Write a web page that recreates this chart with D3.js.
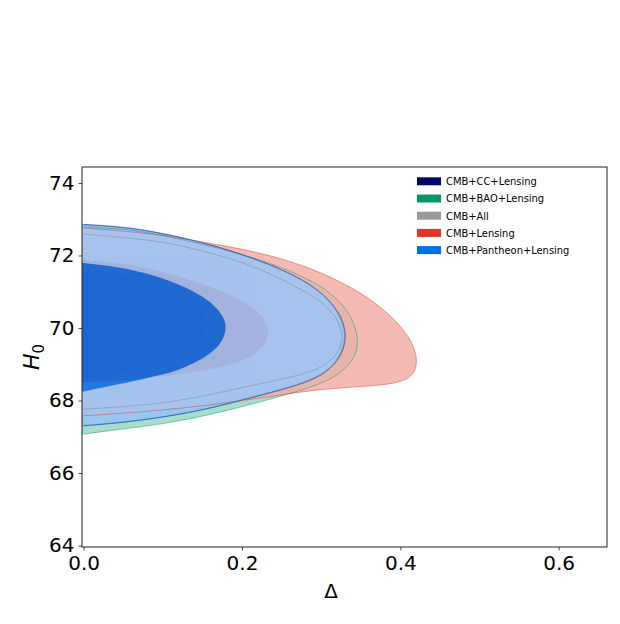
<!DOCTYPE html>
<html><head><meta charset="utf-8">
<script src="https://cdn.jsdelivr.net/npm/d3@7"></script>
<style>body{margin:0;background:#fff} svg{display:block} text{font-family:"DejaVu Sans",sans-serif;fill:#000}
.leg{font-family:"DejaVu Sans Condensed","DejaVu Sans",sans-serif;font-stretch:condensed}</style>
</head><body><svg id="c" width="620" height="624"></svg>
<script>
// ---------- data ----------
const seriesNames = ["CMB+CC+Lensing","CMB+BAO+Lensing","CMB+All","CMB+Lensing","CMB+Pantheon+Lensing"];
const seriesColors = ["#000866","#009966","#808080","#E03424","#006FED"];
const legendColors = ["#000866","#009966","#999999","#E03424","#006FED"];
const xTicks = [0.0, 0.2, 0.4, 0.6];
const yTicks = [64, 66, 68, 70, 72, 74];
const xDomain = [-0.002, 0.661];
const yDomain = [63.96, 74.44];

// contour outlines [Delta, H0]: 95% and 68% regions
const pan95 = [[0,72.85],[0.05,72.78],[0.0875,72.66],[0.151,72.36],[0.214,71.93],[0.26,71.52],[0.292,71.12],[0.314,70.68],[0.327,70.2],[0.331,69.75],[0.326,69.3],[0.312,68.88],[0.288,68.56],[0.25,68.3],[0.2,68.02],[0.151,67.74],[0.0875,67.5],[0.039,67.38],[0,67.31]];
const pan68 = [[0,71.79],[0.0666,71.62],[0.121,71.22],[0.159,70.78],[0.177,70.32],[0.181,70.0],[0.175,69.58],[0.155,69.18],[0.121,68.84],[0.1,68.72],[0.0666,68.55],[0.0244,68.36],[0,68.25]];
const cc95 = [[0,72.86],[0.05,72.79],[0.0875,72.67],[0.151,72.37],[0.214,71.94],[0.26,71.53],[0.292,71.13],[0.315,70.68],[0.328,70.2],[0.332,69.75],[0.327,69.3],[0.313,68.87],[0.289,68.55],[0.25,68.29],[0.2,68.01],[0.151,67.73],[0.0875,67.49],[0.039,67.37],[0,67.30]];
const cc68 = [[0,71.7],[0.065,71.52],[0.115,71.14],[0.15,70.74],[0.167,70.32],[0.17,70.04],[0.165,69.62],[0.147,69.25],[0.115,68.95],[0.065,68.68],[0.024,68.5],[0,68.42]];
const bao95 = [[0,72.79],[0.05,72.73],[0.083,72.63],[0.146,72.34],[0.197,72.05],[0.248,71.7],[0.289,71.3],[0.32,70.84],[0.339,70.3],[0.347,69.75],[0.345,69.3],[0.333,68.9],[0.31,68.55],[0.275,68.28],[0.23,68.0],[0.165,67.63],[0.102,67.35],[0.039,67.19],[0,67.07]];
const bao68 = [[0,71.72],[0.07,71.54],[0.12,71.15],[0.155,70.74],[0.171,70.3],[0.174,69.98],[0.168,69.55],[0.15,69.2],[0.12,68.9],[0.07,68.62],[0.025,68.46],[0,68.4]];
const all95 = [[0,72.59],[0.0817,72.44],[0.124,72.27],[0.166,72.04],[0.205,71.78],[0.24,71.46],[0.272,71.1],[0.302,70.72],[0.321,70.25],[0.328,69.8],[0.324,69.4],[0.309,69.0],[0.28,68.72],[0.225,68.48],[0.145,68.08],[0.0817,67.87],[0,67.76]];
const all68 = [[0,71.6],[0.06,71.45],[0.11,71.1],[0.14,70.7],[0.155,70.3],[0.157,70.05],[0.152,69.7],[0.135,69.35],[0.105,69.05],[0.06,68.8],[0.02,68.66],[0,68.6]];
const lens95 = [[0,72.76],[0.0817,72.62],[0.124,72.47],[0.166,72.31],[0.2,72.18],[0.239,71.98],[0.281,71.7],[0.323,71.3],[0.36,70.84],[0.39,70.3],[0.41,69.8],[0.42,69.33],[0.421,68.95],[0.415,68.66],[0.398,68.49],[0.37,68.41],[0.323,68.35],[0.281,68.26],[0.239,68.12],[0.166,67.89],[0.103,67.74],[0.0395,67.63],[0,67.58]];
const lens68 = [[0,71.88],[0.06,71.76],[0.109,71.52],[0.172,71.06],[0.215,70.6],[0.235,70.1],[0.232,69.55],[0.208,69.12],[0.165,68.87],[0.13,68.76],[0.1,68.66],[0.06,68.56],[0,68.50]];

const contours95 = [cc95, bao95, all95, lens95, pan95];
const contours68 = [cc68, bao68, all68, lens68, pan68];

// ---------- layout ----------
const M = {left: 82, top: 167, right: 607, bottom: 547};
const svg = d3.select("#c");
const x = d3.scaleLinear().domain(xDomain).range([M.left, M.right]);
const y = d3.scaleLinear().domain(yDomain).range([M.bottom, M.top]);

svg.append("defs").append("clipPath").attr("id","clip")
  .append("rect").attr("x",M.left).attr("y",M.top).attr("width",M.right-M.left).attr("height",M.bottom-M.top);

const line = d3.line().x(d=>x(d[0])).y(d=>y(d[1])).curve(d3.curveBasis);
function fillPath(pts){
  const x0 = x(xDomain[0]) - 2;
  return line(pts) + `L${x0},${y(pts[pts.length-1][1])}L${x0},${y(pts[0][1])}Z`;
}
function pale(c){
  const r = d3.rgb(c);
  return d3.rgb(r.r*0.4+153, r.g*0.4+153, r.b*0.4+153).formatHex();
}

const plot = svg.append("g").attr("clip-path","url(#clip)");
seriesNames.forEach((name,i)=>{
  const alpha = i===0 ? 1 : 0.85;
  const g = plot.append("g").attr("opacity",alpha);
  g.append("path").attr("d",fillPath(contours95[i])).attr("fill",pale(seriesColors[i]));
  g.append("path").attr("d",fillPath(contours68[i])).attr("fill",seriesColors[i]);
});
seriesNames.forEach((name,i)=>{
  plot.append("path").attr("d",line(contours95[i])).attr("fill","none")
    .attr("stroke",seriesColors[i]).attr("stroke-width",1).attr("stroke-opacity",0.45);
});

// ---------- axes ----------
svg.append("rect").attr("x",M.left).attr("y",M.top).attr("width",M.right-M.left).attr("height",M.bottom-M.top)
  .attr("fill","none").attr("stroke","#222").attr("stroke-width",1);

const xAxis = d3.axisBottom(x).tickValues(xTicks).tickFormat(d3.format(".1f")).tickSize(3.5).tickPadding(5);
const gx = svg.append("g").attr("transform",`translate(0,${M.bottom})`).call(xAxis);
gx.select(".domain").remove();
gx.selectAll("line").attr("stroke","#222").attr("stroke-width",0.8);
gx.selectAll("text").attr("font-size",20).attr("font-family","DejaVu Sans").attr("fill","#000");

const yAxis = d3.axisLeft(y).tickValues(yTicks).tickFormat(d3.format("d")).tickSize(3.5).tickPadding(4);
const gy = svg.append("g").attr("transform",`translate(${M.left},0)`).call(yAxis);
gy.select(".domain").remove();
gy.selectAll("line").attr("stroke","#222").attr("stroke-width",0.8);
gy.selectAll("text").attr("font-size",20).attr("font-family","DejaVu Sans").attr("fill","#000");

// axis labels
svg.append("text").attr("x",331).attr("y",598).attr("text-anchor","middle").attr("font-size",20).text("Δ");
const yl = svg.append("text").attr("transform",`translate(39,${(M.top+M.bottom)/2}) rotate(-90)`)
  .attr("text-anchor","middle").attr("font-size",22);
yl.append("tspan").attr("font-style","italic").text("H");
yl.append("tspan").attr("font-size",15).attr("dy",5).text("0");

// ---------- legend ----------
const lg = svg.append("g");
seriesNames.forEach((name,i)=>{
  const yy = 181.3 + i*17.2;
  lg.append("rect").attr("x",417).attr("y",yy-4).attr("width",24).attr("height",8).attr("fill",legendColors[i]);
  lg.append("text").attr("class","leg").attr("x",446).attr("y",yy+3.9).attr("font-size",11).attr("fill","#111").text(name);
});
</script></body></html>
